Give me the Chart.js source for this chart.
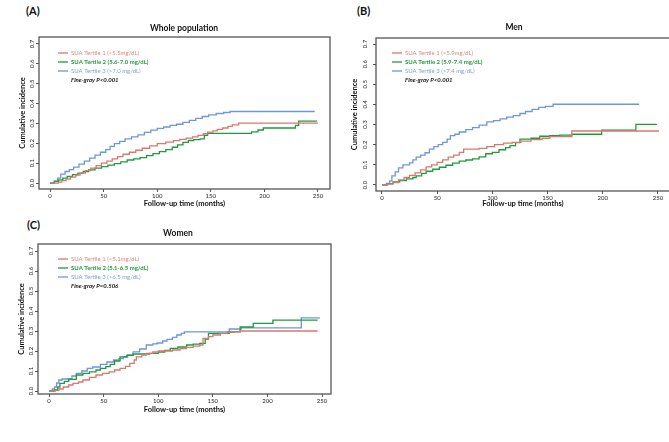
<!DOCTYPE html>
<html>
<head>
<meta charset="utf-8">
<script src="https://cdn.jsdelivr.net/npm/chart.js@4"></script>
<style>
  body { margin: 0; background: #fff; overflow: hidden; width: 669px; height: 442px; position: relative; }
  canvas { position: absolute; }
  .tag { position: absolute; font: bold 11px Lato, 'Liberation Sans', sans-serif; color: #111; }
</style>
</head>
<body>
<div class="tag" style="left:26px;top:4px">(A)</div>
<div class="tag" style="left:357px;top:4px">(B)</div>
<div class="tag" style="left:27px;top:218px">(C)</div>
<canvas id="chartA" width="340" height="215" style="left:0;top:0;width:340px;height:215px"></canvas>
<canvas id="chartB" width="332" height="215" style="left:340px;top:0;width:332px;height:215px"></canvas>
<canvas id="chartC" width="340" height="222" style="left:0;top:220px;width:340px;height:222px"></canvas>
<script>
// axis ticks
const xTicks = [0, 50, 100, 150, 200, 250];
const xTickLabels = ['0', '50', '100', '150', '200', '250'];
const yTicks = [0, 0.1, 0.2, 0.3, 0.4, 0.5, 0.6, 0.7];
const yTickLabels = ['0.0', '0.1', '0.2', '0.3', '0.4', '0.5', '0.6', '0.7'];

// (A) whole population: event times (months) and cumulative incidence after each step
const wholeT1Time = [0, 8, 11, 15, 19, 24, 28, 33, 38, 43, 48, 53, 58, 63, 68, 74, 80, 86, 93, 100, 108, 115, 121, 127, 133, 138, 143, 147, 152, 156, 161, 166, 170, 176, 250];
const wholeT1Inc = [0, 0.005, 0.012, 0.02, 0.03, 0.04, 0.05, 0.062, 0.075, 0.088, 0.1, 0.11, 0.122, 0.133, 0.145, 0.155, 0.165, 0.175, 0.187, 0.198, 0.206, 0.213, 0.22, 0.226, 0.232, 0.24, 0.248, 0.256, 0.263, 0.27, 0.277, 0.285, 0.293, 0.302, 0.302];
const wholeT2Time = [0, 4, 8, 12, 16, 21, 26, 31, 36, 42, 48, 54, 60, 66, 72, 78, 84, 90, 96, 102, 108, 114, 119, 124, 129, 134, 140, 144, 147, 188, 194, 199, 229, 232, 249];
const wholeT2Inc = [0, 0.008, 0.016, 0.025, 0.033, 0.042, 0.05, 0.058, 0.066, 0.075, 0.083, 0.09, 0.098, 0.107, 0.116, 0.122, 0.128, 0.138, 0.148, 0.158, 0.168, 0.18, 0.192, 0.205, 0.214, 0.218, 0.222, 0.24, 0.25, 0.258, 0.267, 0.277, 0.29, 0.312, 0.312];
const wholeT3Time = [0, 4, 7, 10, 14, 18, 22, 27, 32, 37, 42, 47, 52, 56, 60, 65, 70, 76, 82, 88, 94, 100, 106, 112, 118, 124, 130, 136, 142, 148, 155, 162, 168, 247];
const wholeT3Inc = [0, 0.01, 0.025, 0.045, 0.058, 0.068, 0.08, 0.095, 0.11, 0.125, 0.14, 0.155, 0.168, 0.185, 0.198, 0.21, 0.222, 0.232, 0.242, 0.255, 0.266, 0.275, 0.282, 0.29, 0.296, 0.305, 0.315, 0.325, 0.335, 0.343, 0.35, 0.355, 0.36, 0.36];
const wholeLabels = ['SUA Tertile 1 (<5.5mg/dL)', 'SUA Tertile 2 (5.6-7.0 mg/dL)', 'SUA Tertile 3 (>7.0 mg/dL)'];

// (B) men
const menT1Time = [0, 5, 10, 15, 20, 25, 30, 35, 40, 45, 50, 55, 60, 65, 70, 74, 88, 95, 102, 110, 118, 126, 135, 145, 152, 172, 251];
const menT1Inc = [0, 0.005, 0.012, 0.025, 0.038, 0.048, 0.06, 0.075, 0.09, 0.1, 0.112, 0.125, 0.138, 0.148, 0.162, 0.178, 0.182, 0.19, 0.2, 0.208, 0.212, 0.218, 0.225, 0.232, 0.24, 0.268, 0.268];
const menT2Time = [0, 5, 10, 16, 22, 28, 31, 36, 40, 46, 52, 58, 64, 70, 76, 82, 88, 94, 100, 106, 112, 116, 121, 125, 135, 143, 152, 161, 172, 199, 230, 249];
const menT2Inc = [0, 0.006, 0.015, 0.022, 0.03, 0.037, 0.045, 0.058, 0.068, 0.078, 0.088, 0.098, 0.108, 0.118, 0.124, 0.13, 0.14, 0.155, 0.162, 0.175, 0.185, 0.195, 0.21, 0.228, 0.232, 0.242, 0.245, 0.248, 0.252, 0.272, 0.301, 0.301];
const menT3Time = [0, 4, 7, 9, 12, 15, 19, 25, 28, 31, 35, 39, 43, 47, 51, 55, 59, 62, 66, 70, 76, 82, 88, 95, 101, 107, 113, 119, 125, 130, 136, 142, 148, 155, 233];
const menT3Inc = [0, 0.008, 0.02, 0.045, 0.065, 0.085, 0.1, 0.11, 0.125, 0.138, 0.148, 0.16, 0.178, 0.19, 0.2, 0.212, 0.228, 0.245, 0.252, 0.263, 0.275, 0.285, 0.297, 0.313, 0.32, 0.328, 0.337, 0.344, 0.355, 0.365, 0.375, 0.385, 0.39, 0.401, 0.401];
const menLabels = ['SUA Tertile 1 (<5.9mg/dL)', 'SUA Tertile 2 (5.9-7.4 mg/dL)', 'SUA Tertile 3 (>7.4 mg/dL)'];

// (C) women
const womenT1Time = [0, 6, 9, 13, 18, 22, 27, 31, 37, 43, 49, 55, 60, 65, 70, 74, 78, 80, 85, 89, 95, 100, 113, 120, 126, 132, 138, 141, 146, 150, 157, 163, 170, 175, 246];
const womenT1Inc = [0, 0.003, 0.01, 0.02, 0.03, 0.038, 0.045, 0.055, 0.068, 0.08, 0.088, 0.096, 0.105, 0.113, 0.123, 0.138, 0.155, 0.171, 0.18, 0.188, 0.195, 0.2, 0.205, 0.212, 0.218, 0.224, 0.23, 0.263, 0.272, 0.28, 0.288, 0.293, 0.297, 0.3, 0.3];
const womenT2Time = [0, 5, 8, 10, 14, 18, 25, 31, 37, 43, 47, 52, 56, 60, 65, 71, 77, 92, 100, 106, 111, 118, 126, 132, 138, 143, 146, 165, 175, 187, 205, 246];
const womenT2Inc = [0, 0.005, 0.02, 0.038, 0.048, 0.058, 0.08, 0.088, 0.096, 0.105, 0.113, 0.122, 0.133, 0.15, 0.171, 0.178, 0.185, 0.188, 0.195, 0.203, 0.213, 0.22, 0.23, 0.234, 0.238, 0.26, 0.288, 0.296, 0.32, 0.338, 0.354, 0.354];
const womenT3Time = [0, 3, 5, 7, 9, 12, 17, 21, 25, 30, 35, 40, 47, 53, 59, 64, 68, 72, 77, 83, 89, 95, 99, 104, 108, 113, 117, 121, 124, 165, 176, 231, 248];
const womenT3Inc = [0, 0.01, 0.02, 0.04, 0.055, 0.06, 0.062, 0.075, 0.088, 0.1, 0.113, 0.12, 0.133, 0.145, 0.155, 0.162, 0.17, 0.18, 0.196, 0.21, 0.23, 0.236, 0.24, 0.25, 0.258, 0.268, 0.28, 0.288, 0.296, 0.31, 0.316, 0.366, 0.366];
const womenLabels = ['SUA Tertile 1 (<5.1mg/dL)', 'SUA Tertile 2 (5.1-6.5 mg/dL)', 'SUA Tertile 3 (>6.5 mg/dL)'];

const FONT = "Lato, 'Liberation Sans', sans-serif";
const lineColors = ['#d9786f', '#1f9a3e', '#6e97d8'];
const textColors = ['#d98a82', '#239a42', '#7f9fd6'];

function toPoints(times, values) {
    return times.map((t, i) => ({ x: t, y: values[i] }));
}

// frame, panel title and the in-plot legend
const panelDecor = {
    id: 'panelDecor',
    afterDraw(chart, args, opts) {
        const ctx = chart.ctx;
        const a = chart.chartArea;
        ctx.save();
        ctx.strokeStyle = '#555';
        ctx.lineWidth = 1.3;
        ctx.strokeRect(a.left, a.top, a.right - a.left, a.bottom - a.top);

        ctx.fillStyle = '#111';
        ctx.font = 'bold 8.5px ' + FONT;
        ctx.textAlign = 'center';
        ctx.textBaseline = 'middle';
        ctx.fillText(opts.title, opts.titleX, opts.titleY);

        let x = a.left + opts.legendDx;
        let y = a.top + opts.legendDy;
        ctx.textAlign = 'left';
        opts.labels.forEach((label, i) => {
            ctx.strokeStyle = lineColors[i];
            ctx.lineWidth = 1.3;
            ctx.beginPath();
            ctx.moveTo(x, y);
            ctx.lineTo(x + 10, y);
            ctx.stroke();
            ctx.fillStyle = textColors[i];
            ctx.font = (i === 1 ? 'bold ' : '') + '6px ' + FONT;
            ctx.fillText(label, x + 13, y);
            y += 9;
        });
        ctx.fillStyle = '#111';
        ctx.font = 'italic bold 6px ' + FONT;
        ctx.fillText(opts.pText, x + 13, y);
        ctx.restore();
    }
};

function makeChart(id, series, labels, pText, layout) {
    new Chart(document.getElementById(id), {
        type: 'line',
        data: {
            datasets: series.map((s, i) => ({
                label: labels[i],
                data: toPoints(s[0], s[1]),
                borderColor: lineColors[i],
                borderWidth: 1.3,
                pointRadius: 0,
                stepped: 'before',
                fill: false
            }))
        },
        options: {
            responsive: false,
            animation: false,
            layout: { padding: layout.padding },
            plugins: {
                legend: { display: false },
                tooltip: { enabled: false },
                panelDecor: {
                    title: layout.title, titleX: layout.titleX, titleY: layout.titleY,
                    labels: labels, pText: pText,
                    legendDx: layout.legendDx, legendDy: layout.legendDy
                }
            },
            scales: {
                x: {
                    type: 'linear',
                    min: layout.xMin, max: layout.xMax,
                    afterBuildTicks: (scale) => { scale.ticks = xTicks.map(v => ({ value: v })); },
                    afterFit: (scale) => { scale.height = layout.xHeight; },
                    border: { display: false },
                    grid: { display: true, drawOnChartArea: false, drawTicks: true, tickLength: 3, color: '#555', lineWidth: 1 },
                    ticks: {
                        padding: 0, maxRotation: 0, autoSkip: false,
                        color: '#222', font: { family: FONT, size: 6 },
                        callback: (v, i) => xTickLabels[i]
                    },
                    title: {
                        display: true, text: 'Follow-up time (months)', color: '#111',
                        font: { family: FONT, size: 7.5, weight: 'bold' }, padding: 0
                    }
                },
                y: {
                    type: 'linear',
                    min: layout.yMin, max: layout.yMax,
                    afterBuildTicks: (scale) => { scale.ticks = yTicks.map(v => ({ value: v })); },
                    afterFit: (scale) => { scale.width = layout.yWidth; },
                    border: { display: false },
                    grid: { display: true, drawOnChartArea: false, drawTicks: true, tickLength: 3, color: '#555', lineWidth: 1 },
                    ticks: {
                        padding: layout.yTickPad, minRotation: 90, maxRotation: 90, crossAlign: 'center',
                        color: '#222', font: { family: FONT, size: 6 },
                        callback: (v, i) => yTickLabels[i]
                    },
                    title: {
                        display: true, text: 'Cumulative incidence', color: '#111',
                        font: { family: FONT, size: 7.5, weight: 'bold' }, padding: 0
                    }
                }
            }
        },
        plugins: [panelDecor]
    });
}

makeChart('chartA',
    [[wholeT1Time, wholeT1Inc], [wholeT2Time, wholeT2Inc], [wholeT3Time, wholeT3Inc]],
    wholeLabels, 'Fine-gray P<0.001',
    { padding: { left: 18, top: 37, right: 10, bottom: 7 }, yWidth: 21, xHeight: 19, yTickPad: 0,
      xMin: -10.3, xMax: 261.2, yMin: -0.030, yMax: 0.735,
      title: 'Whole population', titleX: 184, titleY: 28, legendDx: 19, legendDy: 16 });

makeChart('chartB',
    [[menT1Time, menT1Inc], [menT2Time, menT2Inc], [menT3Time, menT3Inc]],
    menLabels, 'Fine-gray P<0.001',
    { padding: { left: 10, top: 38, right: 2, bottom: 7 }, yWidth: 26, xHeight: 17, yTickPad: 4,
      xMin: -5.4, xMax: 260.9, yMin: -0.030, yMax: 0.730,
      title: 'Men', titleX: 174, titleY: 27, legendDx: 16, legendDy: 15 });

makeChart('chartC',
    [[womenT1Time, womenT1Inc], [womenT2Time, womenT2Inc], [womenT3Time, womenT3Inc]],
    womenLabels, 'Fine-gray P=0.506',
    { padding: { left: 17, top: 24, right: 9, bottom: 28 }, yWidth: 21, xHeight: 20, yTickPad: 0,
      xMin: -10.1, xMax: 258.2, yMin: -0.015, yMax: 0.735,
      title: 'Women', titleX: 178, titleY: 13, legendDx: 20, legendDy: 15 });
</script>
</body>
</html>
